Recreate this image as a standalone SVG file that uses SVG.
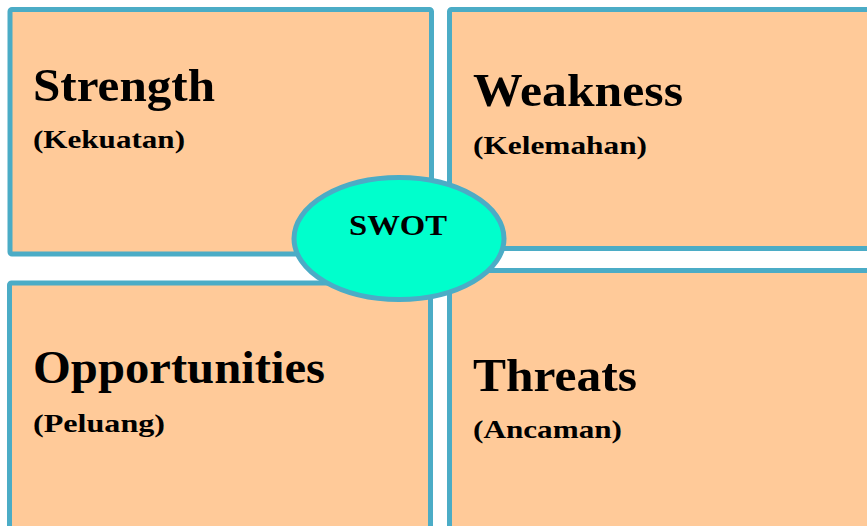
<svg xmlns="http://www.w3.org/2000/svg" width="867" height="526" viewBox="0 0 867 526">
  <style>
    .box { fill: #FFCA99; stroke: #4BACC6; stroke-width: 5; }
    .hub { fill: #00FFCC; stroke: #4BACC6; stroke-width: 5; }
    .title { font-family: "Liberation Serif", "Times New Roman", serif; font-weight: bold; font-size: 47px; fill: #000; }
    .sub { font-family: "Liberation Serif", "Times New Roman", serif; font-weight: bold; font-size: 26px; fill: #000; }
    .hubtext { font-family: "Liberation Serif", "Times New Roman", serif; font-weight: bold; font-size: 30px; fill: #000; }
  </style>
  <rect width="867" height="526" fill="#FFFFFF"/>
  <g id="strength">
    <rect class="box" x="10" y="9.5" width="421.5" height="244.5" rx="2"/>
    <text class="title" x="33" y="101" textLength="182" lengthAdjust="spacingAndGlyphs">Strength</text>
    <text class="sub" x="33" y="148" textLength="152" lengthAdjust="spacingAndGlyphs">(Kekuatan)</text>
  </g>
  <g id="weakness">
    <rect class="box" x="449.5" y="9.5" width="430" height="239" rx="2"/>
    <text class="title" x="473" y="106" textLength="210" lengthAdjust="spacingAndGlyphs">Weakness</text>
    <text class="sub" x="473" y="154" textLength="174" lengthAdjust="spacingAndGlyphs">(Kelemahan)</text>
  </g>
  <g id="opportunities">
    <rect class="box" x="9.5" y="283" width="421" height="260" rx="2"/>
    <text class="title" x="33" y="383" textLength="292" lengthAdjust="spacingAndGlyphs">Opportunities</text>
    <text class="sub" x="33" y="431.5" textLength="132" lengthAdjust="spacingAndGlyphs">(Peluang)</text>
  </g>
  <g id="threats">
    <rect class="box" x="449.5" y="270.5" width="430" height="270" rx="2"/>
    <text class="title" x="473" y="391" textLength="164" lengthAdjust="spacingAndGlyphs">Threats</text>
    <text class="sub" x="473" y="438" textLength="149" lengthAdjust="spacingAndGlyphs">(Ancaman)</text>
  </g>
  <g id="connectors"></g>
  <g id="swot">
    <ellipse class="hub" cx="399" cy="238.5" rx="105" ry="61"/>
    <text class="hubtext" x="349" y="235" textLength="98" lengthAdjust="spacingAndGlyphs">SWOT</text>
  </g>
</svg>
